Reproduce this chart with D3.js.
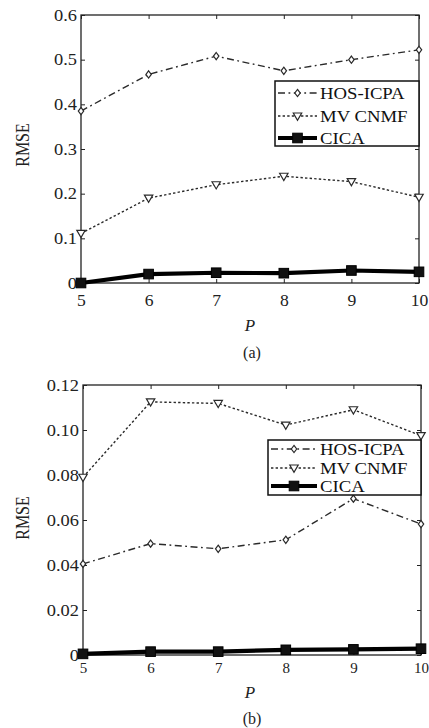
<!DOCTYPE html>
<html><head><meta charset="utf-8">
<script src="https://cdn.jsdelivr.net/npm/d3@7/dist/d3.min.js"></script>
<style>body{margin:0;background:#fff}svg{display:block}</style>
</head><body>
<svg id="c" width="429" height="728"></svg>
<script>
const P = [5, 6, 7, 8, 9, 10];
const seriesNames = ["HOS-ICPA", "MV CNMF", "CICA"];
// panel (a)
const aHOS = [0.385, 0.467, 0.508, 0.475, 0.500, 0.522];
const aMV  = [0.111, 0.190, 0.220, 0.239, 0.227, 0.192];
const aCICA= [0.000, 0.020, 0.023, 0.022, 0.028, 0.025];
const aYTicks = [0, 0.1, 0.2, 0.3, 0.4, 0.5, 0.6];
const aYLabels = ["0", "0.1", "0.2", "0.3", "0.4", "0.5", "0.6"];
// panel (b)
const bHOS = [0.0405, 0.0495, 0.0472, 0.0512, 0.0695, 0.0582];
const bMV  = [0.0790, 0.1125, 0.1118, 0.1022, 0.1090, 0.0975];
const bCICA= [0.0005, 0.0015, 0.0015, 0.0023, 0.0025, 0.0028];
const bYTicks = [0, 0.02, 0.04, 0.06, 0.08, 0.10, 0.12];
const bYLabels = ["0", "0.02", "0.04", "0.06", "0.08", "0.10", "0.12"];

const svg = d3.select("#c");
const FONT = "'Liberation Serif','Times New Roman',serif";
const styles = [
  {color:"#2a2a2a", width:1.4, dash:"7,3.5,1.8,3.5", marker:"diamond"},
  {color:"#2a2a2a", width:1.4, dash:"2.4,2.2", marker:"tri"},
  {color:"#000", width:4.2, dash:null, marker:"square"}
];

function marker(g, type, x, y) {
  if (type === "diamond") {
    g.append("path").attr("d", `M${x},${y-3.6}L${x+2.7},${y}L${x},${y+3.6}L${x-2.7},${y}Z`)
      .attr("fill","#fff").attr("stroke","#2a2a2a").attr("stroke-width",1.2);
  } else if (type === "tri") {
    g.append("path").attr("d", `M${x-4.2},${y-3}L${x+4.2},${y-3}L${x},${y+4.2}Z`)
      .attr("fill","#fff").attr("stroke","#2a2a2a").attr("stroke-width",1.2);
  } else {
    g.append("rect").attr("x", x-4.8).attr("y", y-4.8).attr("width", 9.6).attr("height", 9.6)
      .attr("fill","#111").attr("stroke","#000").attr("stroke-width",1);
  }
}

function panel(cfg) {
  const x = d3.scaleLinear().domain([5, 10]).range([cfg.left, cfg.right]);
  const y = d3.scaleLinear().domain([cfg.yTicks[0], cfg.yTicks[cfg.yTicks.length-1]]).range([cfg.bottom, cfg.top]);
  const g = svg.append("g");

  // frame
  g.append("rect").attr("x", cfg.left).attr("y", cfg.top)
    .attr("width", cfg.right - cfg.left).attr("height", cfg.bottom - cfg.top)
    .attr("fill","none").attr("stroke","#222").attr("stroke-width",1.3);

  // left axis
  const ya = g.append("g").attr("transform", `translate(${cfg.left},0)`)
    .call(d3.axisLeft(y).tickValues(cfg.yTicks).tickSize(-4).tickPadding(4)
      .tickFormat((d,i) => cfg.yLabels[i]));
  ya.select(".domain").remove();
  ya.selectAll("line").attr("stroke","#222");
  ya.selectAll("text").attr("font-family", FONT).attr("font-size", 16).attr("fill","#222")
    .attr("transform","scale(1.15,1)").attr("x", -4/1.15);
  // right axis ticks
  const yr = g.append("g").attr("transform", `translate(${cfg.right},0)`)
    .call(d3.axisRight(y).tickValues(cfg.yTicks).tickSize(-4).tickFormat(""));
  yr.select(".domain").remove();
  yr.selectAll("line").attr("stroke","#222");
  // bottom axis
  const xa = g.append("g").attr("transform", `translate(0,${cfg.bottom})`)
    .call(d3.axisBottom(x).tickValues(P).tickSize(-4).tickPadding(cfg.xPad).tickFormat(d3.format("d")));
  xa.select(".domain").remove();
  xa.selectAll("line").attr("stroke","#222");
  xa.selectAll("text").attr("font-family", FONT).attr("font-size", cfg.xFont).attr("fill","#222")
    .attr("transform", `scale(${cfg.xScale},1)`).attr("x", 0);
  // top ticks
  const xt = g.append("g").attr("transform", `translate(0,${cfg.top})`)
    .call(d3.axisTop(x).tickValues(P).tickSize(-4).tickFormat(""));
  xt.select(".domain").remove();
  xt.selectAll("line").attr("stroke","#222");

  // series
  cfg.series.forEach((vals, si) => {
    const st = styles[si];
    const line = d3.line().x((d,i) => x(P[i])).y(d => y(d));
    g.append("path").attr("d", line(vals)).attr("fill","none")
      .attr("stroke", st.color).attr("stroke-width", st.width)
      .attr("stroke-dasharray", st.dash).attr("stroke-linejoin","round");
    vals.forEach((v,i) => marker(g, st.marker, x(P[i]), y(v)));
  });

  // legend
  const L = cfg.legend;
  g.append("rect").attr("x", L.x).attr("y", L.y).attr("width", L.w).attr("height", L.h)
    .attr("fill","#fff").attr("stroke","#111").attr("stroke-width",1.5);
  seriesNames.forEach((name, si) => {
    const st = styles[si];
    const yy = L.y + L.rows[si];
    g.append("line").attr("x1", L.x + 3).attr("x2", L.x + L.sw).attr("y1", yy).attr("y2", yy)
      .attr("stroke", st.color).attr("stroke-width", st.width).attr("stroke-dasharray", st.dash);
    marker(g, st.marker, L.x + 3 + (L.sw - 3)/2, yy);
    g.append("text").attr("x", (L.x + L.sw + 3)/1.07).attr("y", yy + 6)
      .attr("transform","scale(1.07,1)")
      .attr("font-family", FONT).attr("font-size", 17.5).attr("fill","#111").text(name);
  });

  // labels
  g.append("text").attr("transform", `translate(${cfg.ylabX},${cfg.ylabY}) rotate(-90) scale(1,1.2)`)
    .attr("text-anchor","middle").attr("font-family", FONT).attr("font-size", 16).attr("fill","#222")
    .attr("dy","0.35em").text("RMSE");
  g.append("text").attr("x", 250).attr("y", cfg.pY).attr("text-anchor","middle")
    .attr("font-family", FONT).attr("font-style","italic").attr("font-size", 17).attr("fill","#222").text("P");
  g.append("text").attr("x", 252).attr("y", cfg.capY).attr("text-anchor","middle")
    .attr("font-family", FONT).attr("font-size", 16).attr("fill","#222").text(cfg.caption);
}

panel({left:81, right:419, top:15, bottom:283, yTicks:aYTicks, yLabels:aYLabels,
  series:[aHOS, aMV, aCICA], xPad:12, xFont:16, xScale:1.1,
  legend:{x:275, y:81, w:144, h:65, sw:42, rows:[12, 35, 57]},
  ylabX:22, ylabY:145, pY:331, capY:358, caption:"(a)"});
panel({left:83, right:421, top:385, bottom:655, yTicks:bYTicks, yLabels:bYLabels,
  series:[bHOS, bMV, bCICA], xPad:7, xFont:15, xScale:1.0,
  legend:{x:268, y:440, w:153, h:55, sw:49, rows:[9, 28, 46]},
  ylabX:22, ylabY:518, pY:698, capY:724, caption:"(b)"});
</script>
</body></html>
